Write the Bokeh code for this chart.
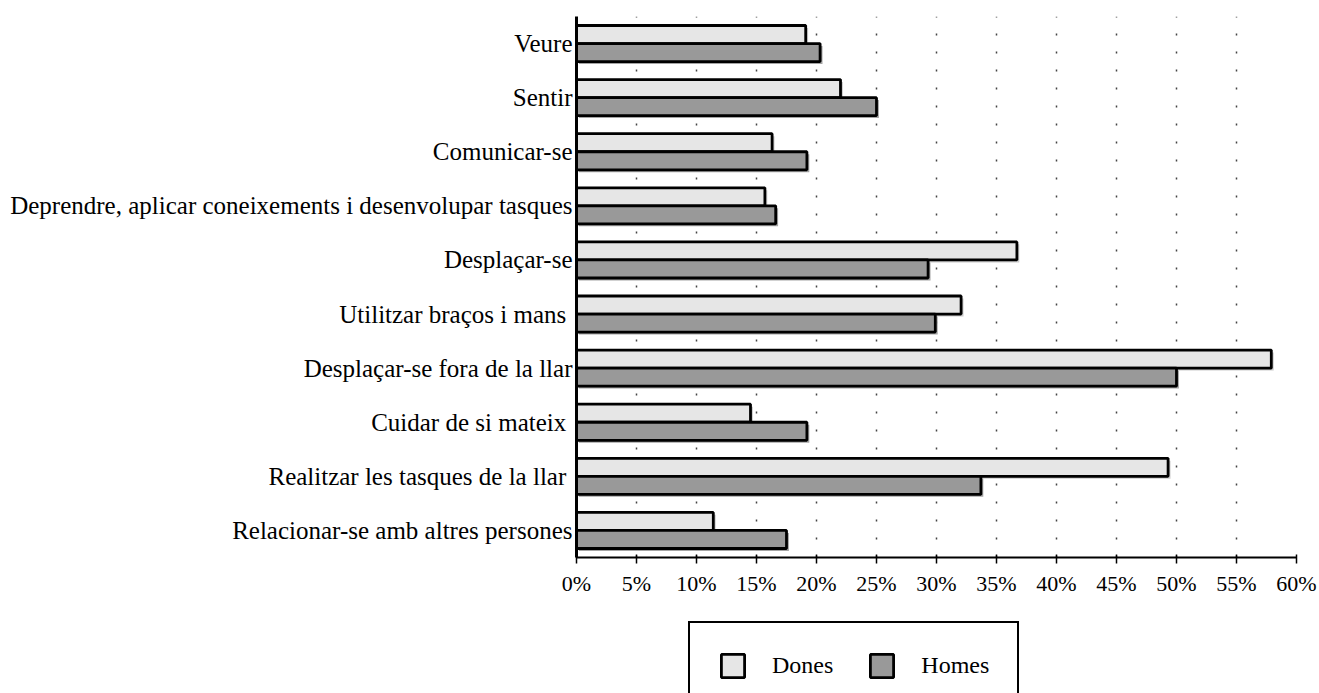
from bokeh.plotting import figure
from bokeh.models import (Range1d, FixedTicker, PrintfTickFormatter, Legend, LegendItem,
                          ColumnDataSource)
from bokeh.layouts import column
from bokeh.embed import file_html
from bokeh.resources import INLINE

categories = ["Veure", "Sentir", "Comunicar-se",
              "Deprendre, aplicar coneixements i desenvolupar tasques",
              "Desplaçar-se", "Utilitzar braços i mans ",
              "Desplaçar-se fora de la llar", "Cuidar de si mateix ",
              "Realitzar les tasques de la llar ",
              "Relacionar-se amb altres persones"]
dones = [19.1, 22.0, 16.3, 15.7, 36.7, 32.05, 57.9, 14.5, 49.3, 11.4]
homes = [20.3, 25.0, 19.2, 16.6, 29.3, 29.9, 50.0, 19.2, 33.7, 17.5]
x_ticks = [0, 5, 10, 15, 20, 25, 30, 35, 40, 45, 50, 55, 60]
series_names = ["Dones", "Homes"]

FONT = "Liberation Serif"
DONES_FILL = "#e6e6e6"
HOMES_FILL = "#999999"
n = len(categories)
pos = [n - 0.5 - i for i in range(n)]
bar_h = 1 / 3.0
dx = 0.2      # shadow offset (~2px)
dy = 0.045

src = ColumnDataSource(dict(
    pos=pos,
    dones=dones,
    homes=homes,
    yd=[p_ + bar_h / 2 for p_ in pos],
    yh=[p_ - bar_h / 2 for p_ in pos],
    yd_s=[p_ + bar_h / 2 - dy for p_ in pos],
    yh_s=[p_ - bar_h / 2 - dy for p_ in pos],
    dones_s=[v + dx for v in dones],
    homes_s=[v + dx for v in homes],
))

W = 1319
p = figure(width=W, height=608, output_backend="svg", toolbar_location=None,
           x_range=Range1d(0, 60), y_range=Range1d(0, n),
           min_border_left=576, min_border_right=23, min_border_top=16,
           min_border_bottom=51)
p.outline_line_color = None
p.background_fill_color = "white"
p.border_fill_color = "white"

# grid
p.xgrid.ticker = FixedTicker(ticks=x_ticks)
p.xgrid.grid_line_color = "#444444"
p.xgrid.grid_line_width = 1.5
p.xgrid.grid_line_dash = "2 16"
p.ygrid.grid_line_color = None

# shadows
p.hbar(y="yd_s", left=dx, right="dones_s", height=bar_h, source=src,
       fill_color="#cccccc", line_color=None)
p.hbar(y="yh_s", left=dx, right="homes_s", height=bar_h, source=src,
       fill_color="#a4a4a4", line_color=None)

p.hbar(y="yd", left=0, right="dones", height=bar_h, source=src,
       fill_color=DONES_FILL, line_color="black", line_width=2.8)
p.hbar(y="yh", left=0, right="homes", height=bar_h, source=src,
       fill_color=HOMES_FILL, line_color="black", line_width=2.8)

# x axis
xa = p.xaxis[0]
xa.ticker = FixedTicker(ticks=x_ticks)
xa.formatter = PrintfTickFormatter(format="%d%%")
xa.axis_line_width = 2
xa.axis_line_color = "black"
xa.major_tick_line_color = "black"
xa.major_tick_line_width = 1.5
xa.major_tick_in = 3
xa.major_tick_out = 6
xa.minor_tick_line_color = None
xa.major_label_text_font = FONT
xa.major_label_text_font_size = "22px"
xa.major_label_text_color = "black"
xa.major_label_standoff = 7

# y axis
ya = p.yaxis[0]
ya.ticker = FixedTicker(ticks=pos)
ya.major_label_overrides = {p_: c for p_, c in zip(pos, categories)}
ya.axis_line_width = 3
ya.axis_line_color = "black"
ya.major_tick_line_color = None
ya.minor_tick_line_color = None
ya.major_tick_out = 0
ya.major_tick_in = 0
ya.major_label_text_font = FONT
ya.major_label_text_font_size = "25px"
ya.major_label_text_color = "black"
ya.major_label_standoff = 4

# legend figure (its frame is aligned with the main frame by the column layout)
lf = figure(width=W, height=85, output_backend="svg", toolbar_location=None,
            x_range=Range1d(0, 1), y_range=Range1d(0, 1),
            min_border=0, x_axis_type=None, y_axis_type=None)
lf.outline_line_color = None
lf.grid.grid_line_color = None
lf.background_fill_color = "white"
lf.border_fill_color = "white"
nan = float("nan")
leg_src = ColumnDataSource(dict(y=[nan], right=[nan]))   # legend swatches only, no visible bar
ld = lf.hbar(y="y", left=0, right="right", height=bar_h, source=leg_src,
             fill_color=DONES_FILL, line_color="black", line_width=2.8)
lh = lf.hbar(y="y", left=0, right="right", height=bar_h, source=leg_src,
             fill_color=HOMES_FILL, line_color="black", line_width=2.8)

legend = Legend(items=[LegendItem(label=series_names[0], renderers=[ld]),
                       LegendItem(label=series_names[1], renderers=[lh])],
                orientation="horizontal", location=(112, -17))
legend.border_line_color = "black"
legend.border_line_alpha = 1.0
legend.border_line_width = 2.5
legend.background_fill_color = "white"
legend.background_fill_alpha = 1.0
legend.label_text_font = FONT
legend.label_text_font_size = "24px"
legend.label_text_color = "black"
legend.glyph_width = 29
legend.glyph_height = 29
legend.label_standoff = 25
legend.spacing = 34
legend.padding = 28
legend.margin = 0
lf.add_layout(legend)

layout = column(p, lf, spacing=0)
open("out.html", "w").write(file_html(layout, INLINE))
